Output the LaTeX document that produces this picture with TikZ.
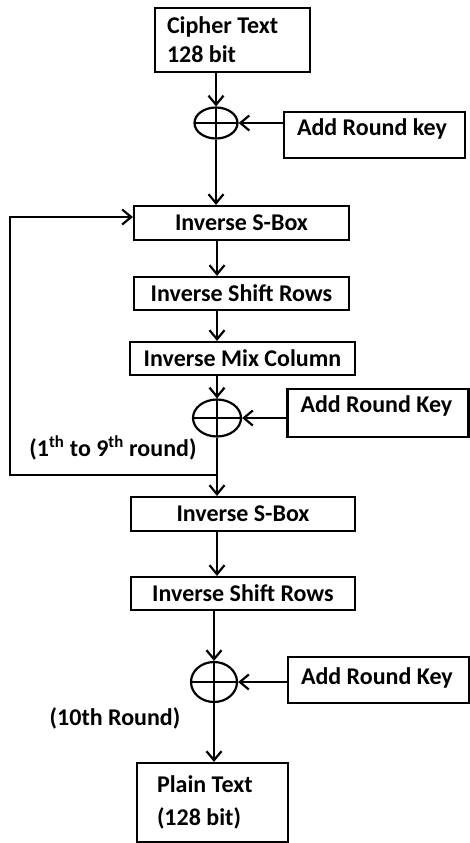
\documentclass[tikz,border=0pt]{standalone}
\usepackage{fontspec}
\setmainfont{Carlito}
\usetikzlibrary{shapes,arrows.meta}

\begin{document}
\begin{tikzpicture}[x=1pt,y=-1pt,>={Straight Barb[length=9pt,width=15pt]},line width=2.2pt,font=\bfseries\fontsize{24}{29}\selectfont]

	\tikzstyle{block}=[rectangle,draw=black,inner sep=0pt]
	\tikzstyle{keybox}=[rectangle,draw=black,text width=155,align=flush left,inner xsep=13,inner ysep=4,text height=19.5,text depth=18.5]
	\tikzstyle{xor}=[ellipse,draw=black,inner sep=0pt,path picture={\draw (path picture bounding box.north) -- (path picture bounding box.south) (path picture bounding box.west) -- (path picture bounding box.east);}]

	\useasboundingbox (0,0) rectangle (470,843);

	\node [block,text width=131,align=flush left,inner xsep=12,minimum height=64] (cipher) at (232.5,40) {Cipher Text\\128 bit};
	\node [xor,minimum width=43,minimum height=31] (xor1) at (216,123) {};
	\node [keybox] (key1) at (374.5,135) {Add Round key};

	\node [block,minimum width=215,minimum height=34] (sbox1) at (241.5,223) {Inverse S-Box};
	\node [block,minimum width=215,minimum height=33] (shift1) at (241.5,293.5) {Inverse Shift Rows};
	\node [block,minimum width=225,minimum height=33] (mix1) at (242.5,358.5) {Inverse Mix Column};
	\node [xor,minimum width=48,minimum height=37] (xor2) at (217,418) {};
	\node [keybox,text depth=20.5] (key2) at (378,413) {Add Round Key};
	\node (lbl1) at (113,448) {(1\textsuperscript{th} to 9\textsuperscript{th} round)};

	\node [block,minimum width=224,minimum height=34] (sbox2) at (243,514) {Inverse S-Box};
	\node [block,minimum width=224,minimum height=33] (shift2) at (243,593.5) {Inverse Shift Rows};
	\node [xor,minimum width=46,minimum height=40] (xor3) at (214,682) {};
	\node [keybox,text height=23.5,text depth=14.5] (key3) at (378.5,680) {Add Round Key};
	\node (lbl2) at (115,718) {(10th Round)};
	\node [block,text width=111,align=flush left,inner xsep=20,minimum height=79] (plain) at (212.5,802.5) {Plain Text\\[4pt](128 bit)};

	\coordinate (loopend) at (10,475);
	\coordinate (looptop) at (10,217);

	\draw [->] (xor1 |- cipher.south) -- (xor1.north);
	\draw [->] (key1.west |- xor1) -- (xor1.east);
	\draw [->] (xor1.south) -- (xor1 |- sbox1.north);
	\draw [->] (xor2 |- sbox1.south) -- (xor2 |- shift1.north);
	\draw [->] (xor2 |- shift1.south) -- (xor2 |- mix1.north);
	\draw [->] (xor2 |- mix1.south) -- (xor2.north);
	\draw [->] (key2.west |- xor2) -- (xor2.east);
	\draw [->] (xor2 |- loopend) -- (loopend) -- (looptop) -- (sbox1.west |- looptop);
	\draw [->] (xor2.south) -- (xor2 |- sbox2.north);
	\draw [->] (xor2 |- sbox2.south) -- (xor2 |- shift2.north);
	\draw [->] (xor3 |- shift2.south) -- (xor3.north);
	\draw [->] (key3.west |- xor3) -- (xor3.east);
	\draw [->] (xor3.south) -- (xor3 |- plain.north);
\end{tikzpicture}
\end{document}
